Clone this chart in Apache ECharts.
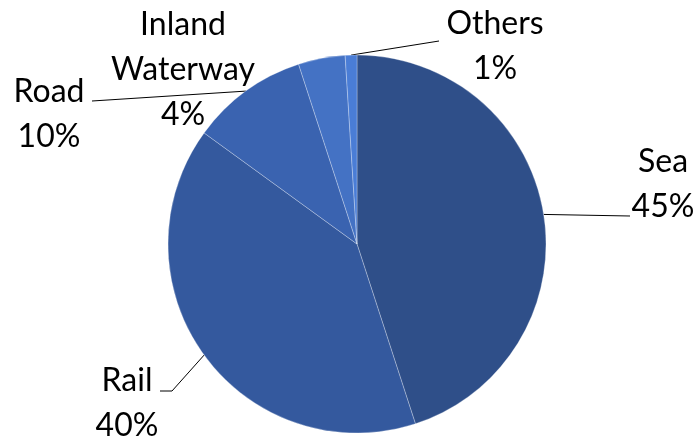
<!DOCTYPE html>
<html>
<head>
<meta charset="utf-8">
<script src="https://cdn.jsdelivr.net/npm/echarts@6/dist/echarts.min.js"></script>
<style>
  html, body { margin: 0; padding: 0; background: #fff; }
  #chart { width: 699px; height: 439px; }
</style>
</head>
<body>
<div id="chart"></div>
<script>
// Freight share by transport mode (%)
const categories = ['Sea', 'Rail', 'Road', 'Inland Waterway', 'Others'];
const shares = [45, 40, 10, 4, 1];

// Slice fills, darkest first
const sliceColors = ['#2F4F89', '#34599E', '#3A63B0', '#4472C4', '#4A7DD6'];

// Where each label block sits and how its leader line bends
const labelPlacement = {
  'Sea':             { x: 663, y: 184, line: [[630, 216]] },
  'Rail':            { x: 127, y: 403, line: [[172, 391], [160, 391]] },
  'Road':            { x: 49,  y: 114, line: [[92, 101]] },
  'Inland Waterway': { x: 183, y: 70,  line: null },
  'Others':          { x: 495, y: 46,  line: [[439, 41]] }
};

const chart = echarts.init(document.getElementById('chart'), null, { renderer: 'canvas' });

chart.setOption({
  animation: false,
  series: [{
    type: 'pie',
    center: [357, 244],
    radius: 189,
    startAngle: 90,
    clockwise: true,
    avoidLabelOverlap: false,
    data: categories.map((name, i) => ({
      name: name,
      value: shares[i],
      itemStyle: { color: sliceColors[i] },
      labelLine: { show: labelPlacement[name].line !== null }
    })),
    itemStyle: {
      borderColor: 'rgba(255,255,255,0.28)',
      borderWidth: 1
    },
    label: {
      show: true,
      position: 'outside',
      formatter: p => p.name.replace(' ', '\n') + '\n' + Math.round(p.percent) + '%',
      fontFamily: 'Lato, "Liberation Sans", sans-serif',
      fontSize: 32,
      lineHeight: 45,
      color: '#000',
      align: 'center'
    },
    labelLine: {
      show: true,
      length: 10,
      length2: 10,
      lineStyle: { color: '#000', width: 1 }
    },
    labelLayout: function (params) {
      const name = categories[params.dataIndex];
      const place = labelPlacement[name];
      const out = {
        x: place.x,
        y: place.y,
        align: 'center',
        verticalAlign: 'middle'
      };
      if (place.line && params.labelLinePoints) {
        out.labelLinePoints = [params.labelLinePoints[0]].concat(place.line);
      }
      return out;
    }
  }]
});
</script>
</body>
</html>
